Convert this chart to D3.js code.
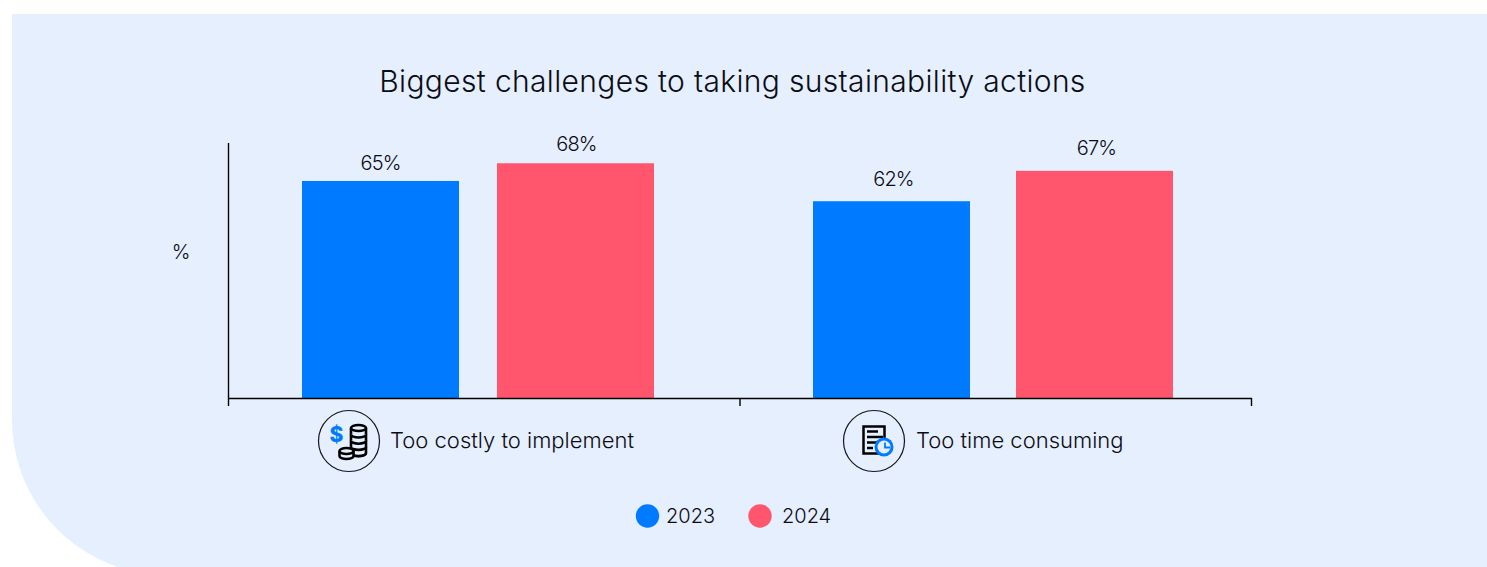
<!DOCTYPE html>
<html>
<head>
<meta charset="utf-8">
<script src="https://d3js.org/d3.v7.min.js"></script>
<style>
  html, body { margin: 0; padding: 0; background: #fff; }
  svg { display: block; }
  text { font-family: Inter, sans-serif; font-weight: 300; fill: #0c0c14; }
</style>
</head>
<body>
<svg width="1487" height="567"></svg>
<script>
var categories = ["Too costly to implement", "Too time consuming"];
var years = ["2023", "2024"];
var values2023 = [65.2, 62];
var values2024 = [68, 66.8];
var titleText = "Biggest challenges to taking sustainability actions";
var yLabel = "%";
var yearColors = ["#007bff", "#ff566d"];
var bg = "#e5effd";
var ink = "#14141e";

var svg = d3.select("svg");

// background panel, bottom left corner is rounded
svg.append("path")
    .attr("d", "M12,14H1487V567H118A155,155 0 0 1 12,420Z")
    .attr("fill", bg);

svg.append("text")
    .attr("x", 732.5).attr("y", 92)
    .attr("text-anchor", "middle")
    .attr("font-size", 30)
    .attr("letter-spacing", 0.34)
    .text(titleText);

var xs = d3.scaleBand().domain(categories).range([228.5, 1251.5]);
var ys = d3.scaleLinear().domain([30.9, 71.2]).range([398, 143]);

var series = years.map(function(y, i) {
  return { year: y, color: yearColors[i], values: i == 0 ? values2023 : values2024 };
});

// bars don't sit the same way in the two groups
var barWidth = 157;
var barOffset = [[73.5, 268.5], [73, 276]];
var labelGap = [[11, 12], [15, 16]];
var labelShift = [[0, 1], [2, 2]];

var gee = svg.selectAll(".series").data(series).enter().append("g")
    .attr("class", "series");

function rows(s, si) {
  return s.values.map(function(v, i) { return { v: v, c: categories[i], color: s.color, si: si, i: i }; });
}

gee.selectAll("rect").data(rows).enter().append("rect")
    .attr("x", function(d) { return xs(d.c) + barOffset[d.i][d.si]; })
    .attr("y", function(d) { return ys(d.v); })
    .attr("width", barWidth)
    .attr("height", function(d) { return ys.range()[0] - ys(d.v); })
    .attr("fill", function(d) { return d.color; });

gee.selectAll("text").data(rows).enter().append("text")
    .attr("x", function(d) { return xs(d.c) + barOffset[d.i][d.si] + barWidth / 2 + labelShift[d.i][d.si]; })
    .attr("y", function(d) { return ys(d.v) - labelGap[d.i][d.si]; })
    .attr("text-anchor", "middle")
    .attr("font-size", 20)
    .attr("letter-spacing", -0.9)
    .text(function(d) { return d3.format(".0f")(d.v) + "%"; });

// axes
var xAxis = svg.append("g")
    .attr("transform", "translate(0,398)")
    .call(d3.axisBottom(xs).tickValues([]).tickSizeOuter(0));
xAxis.select(".domain").attr("stroke", "#000").attr("stroke-width", 1.4);

var ticksX = [xs.range()[0], xs.range()[0] + xs.step(), xs.range()[1]];
svg.selectAll(".xtick").data(ticksX).enter().append("line")
    .attr("class", "xtick")
    .attr("x1", function(d) { return d; }).attr("x2", function(d) { return d; })
    .attr("y1", 398).attr("y2", 406)
    .attr("stroke", "#000").attr("stroke-width", 1.4);

svg.append("line")
    .attr("x1", 228.5).attr("x2", 228.5)
    .attr("y1", ys.range()[1]).attr("y2", ys.range()[0])
    .attr("stroke", "#000").attr("stroke-width", 1.4);

svg.append("text")
    .attr("x", 181).attr("y", 259)
    .attr("text-anchor", "middle")
    .attr("font-size", 20)
    .text(yLabel);

// category labels with icons
var iconX = [349, 874];
var labelX = [390, 916];
var cats = svg.selectAll(".cat").data(categories).enter().append("g").attr("class", "cat");
cats.append("circle")
    .attr("cx", function(d, i) { return iconX[i]; }).attr("cy", 441).attr("r", 30.5)
    .attr("fill", "none").attr("stroke", ink).attr("stroke-width", 1.2);
cats.append("text")
    .attr("x", function(d, i) { return labelX[i]; }).attr("y", 448)
    .attr("font-size", 22)
    .text(function(d) { return d; });

// coin icon
var coins = svg.append("g").attr("fill", bg).attr("stroke", "#000").attr("stroke-width", 2.6);
coins.append("path").attr("d", "M351,428V453A7.5,3 0 0 0 366,453V428");
d3.range(4).forEach(function(i) {
  coins.append("path").attr("d", "M351," + (434.5 + i * 6.2) + "A7.5,3 0 0 0 366," + (434.5 + i * 6.2));
});
coins.append("ellipse").attr("cx", 358.5).attr("cy", 428).attr("rx", 7.5).attr("ry", 3);
coins.append("path").attr("d", "M339.5,451V456A7,3 0 0 0 353.5,456V451");
coins.append("ellipse").attr("cx", 346.5).attr("cy", 451).attr("rx", 7).attr("ry", 3);
svg.append("text")
    .attr("x", 336.5).attr("y", 442)
    .attr("text-anchor", "middle")
    .attr("font-size", 21)
    .style("font-weight", 800)
    .style("fill", "#007bff")
    .text("$");

// document + clock icon
var doc = svg.append("g");
doc.append("rect").attr("x", 863.5).attr("y", 426.5).attr("width", 21).attr("height", 27)
    .attr("fill", "none").attr("stroke", "#000").attr("stroke-width", 2.5);
[11, 16, 16, 6].forEach(function(w, i) {
  doc.append("line").attr("x1", 867).attr("x2", 867 + w)
     .attr("y1", 431.5 + i * 5.5).attr("y2", 431.5 + i * 5.5)
     .attr("stroke", "#000").attr("stroke-width", 2.5);
});
doc.append("circle").attr("cx", 884).attr("cy", 447).attr("r", 9.5)
    .attr("fill", "#007bff");
doc.append("circle").attr("cx", 884).attr("cy", 447).attr("r", 6.5)
    .attr("fill", bg);
doc.append("path").attr("d", "M885,442.5V447.5H890")
    .attr("fill", "none").attr("stroke", "#007bff").attr("stroke-width", 1.8);

// legend
var legendX = [647.5, 760];
var legendTextX = [666, 782];
var legend = svg.selectAll(".legend").data(series).enter().append("g").attr("class", "legend");
legend.append("circle")
    .attr("cx", function(d, i) { return legendX[i]; }).attr("cy", 516).attr("r", 11.7)
    .attr("fill", function(d) { return d.color; });
legend.append("text")
    .attr("x", function(d, i) { return legendTextX[i]; }).attr("y", 523)
    .attr("font-size", 20)
    .text(function(d) { return d.year; });
</script>
</body>
</html>
